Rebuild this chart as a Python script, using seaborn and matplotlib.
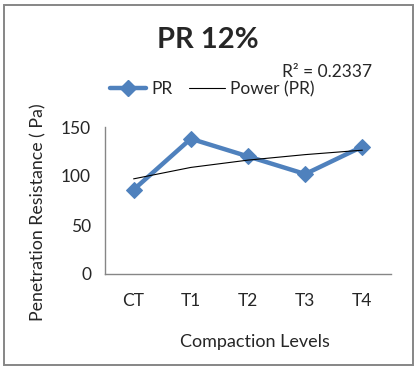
import matplotlib
matplotlib.use("Agg")
import matplotlib.pyplot as plt
import numpy as np
import pandas as pd
import seaborn as sns
from matplotlib.patches import Rectangle
from matplotlib.lines import Line2D

# Data
levels = ["CT", "T1", "T2", "T3", "T4"]
pr = [86, 138, 120, 102, 130]
r2_text = "R² = 0.2337"

df = pd.DataFrame({"level": levels, "pr": pr, "pos": range(len(levels))})

# Power trendline (y = a * x^b, x = 1..n like Excel)
xs = np.arange(1, len(pr) + 1)
b, lna = np.polyfit(np.log(xs), np.log(pr), 1)
trend = np.exp(lna) * xs ** b

sns.set_style("white")
plt.rcParams["font.family"] = ["Lato", "DejaVu Sans"]

W, H = 420, 369
fig = plt.figure(figsize=(W / 100, H / 100), dpi=100)
ax = fig.add_axes([105 / W, 1 - 274 / H, 286 / W, 147 / H])

blue = "#4F81BD"
grey = "#868686"

sns.lineplot(data=df, x="pos", y="pr", ax=ax, color=blue, lw=3.2,
             marker="D", markersize=8.5, markeredgecolor=blue)
ax.plot(df["pos"], trend, color="black", lw=0.8)

ax.set_xlim(-0.5, len(levels) - 0.5)
ax.set_ylim(0, 150)
ax.set_yticks([0, 50, 100, 150])
ax.set_xticks(range(len(levels)))
ax.set_xticklabels(levels)
ax.set_xticks(np.arange(-0.5, len(levels), 1), minor=True)
ax.tick_params(axis="x", which="major", length=0, pad=14, labelsize=12.5)
ax.tick_params(axis="x", which="minor", length=5, width=1, color=grey, direction="out")
ax.tick_params(axis="y", length=5, width=1, color=grey, direction="out", pad=5, labelsize=12.5)
ax.set_xlabel("")
ax.set_ylabel("")
for s in ["top", "right"]:
    ax.spines[s].set_visible(False)
for s in ["left", "bottom"]:
    ax.spines[s].set_color(grey)
    ax.spines[s].set_linewidth(1)

fig.text(208 / W, 1 - 40 / H, "PR 12%", ha="center", va="center",
         fontsize=21, fontweight="bold")
fig.text(327 / W, 1 - 72 / H, r2_text, ha="center", va="center", fontsize=12.5)
fig.text(38 / W, 1 - 212 / H, "Penetration Resistance ( Pa)", rotation=90,
         ha="center", va="center", fontsize=12.8)
fig.text(255 / W, 1 - 342 / H, "Compaction Levels", ha="center", va="center",
         fontsize=13)

handles = [Line2D([], [], color=blue, lw=3.2, marker="D", markersize=8.5),
           Line2D([], [], color="black", lw=0.8)]
fig.legend(handles, ["PR", "Power (PR)"], loc="center left",
           bbox_to_anchor=(110 / W, 1 - 89 / H), ncol=2, frameon=False,
           fontsize=12.5, handlelength=2.1, handletextpad=0.3,
           columnspacing=0.9, borderpad=0, borderaxespad=0)

fig.patches.append(Rectangle((3.5 / W, 4.5 / H), 409 / W, 360 / H,
                             transform=fig.transFigure, fill=False,
                             edgecolor=grey, lw=1.4))

fig.savefig("out.png", dpi=100)
